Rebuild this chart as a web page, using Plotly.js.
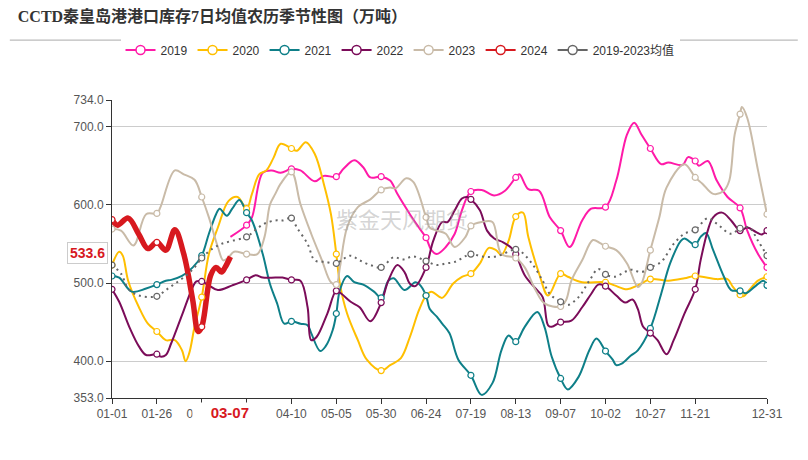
<!DOCTYPE html>
<html>
<head>
<meta charset="utf-8">
<script src="https://cdn.plot.ly/plotly-3.0.1.min.js"></script>
<style>
  body { margin: 0; background: #fff; }
  #chart { width: 808px; height: 460px; }
</style>
</head>
<body>
<div id="chart"></div>
<script>
// x axis: lunar-aligned calendar days of a leap year (01-01 .. 12-31)
const monthLens = [31, 29, 31, 30, 31, 30, 31, 31, 30, 31, 30, 31];
const dayLabels = [];
monthLens.forEach((n, m) => {
  for (let d = 1; d <= n; d++) {
    dayLabels.push(String(m + 1).padStart(2, '0') + '-' + String(d).padStart(2, '0'));
  }
});

// tick positions (day index) and labels shown under the axis
const tickDays = [0, 25, 50, 75, 100, 125, 150, 175, 200, 225, 250, 275, 300, 325, 365];
const tickLabels = ['01-01', '01-26', '02-20', '', '04-10', '05-05', '05-30', '06-24',
  '07-19', '08-13', '09-07', '10-02', '10-27', '11-21', '12-31'];
const yTicks = [353, 400, 500, 600, 700, 734];

// day index + value (万吨)
const d2019 = [66,75,78,84,89,94,100,105,113,118,125,129,135,140,144,150,155,159,166,171,175,178,181,186,191,195,200,206,213,219,225,227,232,238,244,250,255,262,267,275,281,287,291,295,300,306,310,318,321,325,327,332,337,343,350,354,360,365];
const v2019 = [559,574,584,641,644,641,646,644,630,637,636,646,657,648,635,636,631,614,588,571,558,542,537,546,563,593,617,619,612,618,635,639,620,618,584,567,546,580,595,597,631,690,705,690,672,652,654,651,661,656,650,656,631,610,596,567,537,520];

const d2020 = [0,4,6,9,15,20,25,30,35,39,41,43,46,50,54,59,65,70,75,78,82,86,90,94,100,103,108,113,118,122,125,127,131,137,142,150,155,161,166,171,175,178,184,190,195,200,205,210,214,217,221,225,229,232,238,243,250,254,262,275,280,287,293,300,310,319,325,337,343,346,350,352,355,360,365];
const v2020 = [523,540,535,503,469,448,438,427,427,414,400,410,444,482,537,571,605,610,595,614,639,644,660,678,672,669,680,665,627,588,537,499,461,427,402,388,395,404,431,465,484,489,481,499,508,512,525,545,542,536,554,585,590,559,512,484,512,508,501,501,497,492,497,505,503,506,509,505,505,495,485,483,491,503,508];

const d2021 = [0,4,11,19,25,30,33,39,45,50,54,58,60,64,67,71,75,78,84,88,92,96,100,105,109,111,116,119,123,125,127,131,135,140,146,150,154,157,163,169,171,175,177,181,184,188,193,200,206,212,217,221,225,230,237,241,245,250,254,260,266,270,275,279,281,284,289,293,300,306,311,317,319,325,328,331,335,341,345,350,353,358,363,365];
const v2021 = [509,507,489,493,498,503,504,509,520,535,563,588,595,586,595,606,590,580,537,499,474,448,451,448,446,436,413,419,440,461,491,509,501,498,489,481,503,506,491,501,499,484,467,457,448,436,402,382,357,372,414,433,425,444,463,444,406,378,364,380,414,429,413,402,395,397,407,414,442,486,525,554,557,549,559,564,542,508,491,490,487,495,503,497];

const d2022 = [0,4,10,15,19,25,27,30,33,39,45,47,50,54,59,67,75,80,84,91,95,100,105,109,111,114,120,125,128,133,138,144,150,154,159,163,166,169,175,179,184,187,191,195,198,200,205,209,213,218,223,225,230,236,240,243,245,250,256,262,267,271,275,281,286,290,293,296,300,304,309,313,319,325,328,332,335,340,345,350,354,359,362,365];
const v2022 = [492,476,442,419,408,409,406,408,423,459,495,502,502,497,491,497,504,510,507,507,507,504,503,469,427,431,461,490,486,476,469,451,475,503,523,514,499,496,520,554,578,578,593,608,610,607,593,567,557,552,544,537,510,493,482,446,444,450,452,469,486,498,496,484,475,479,467,444,436,427,409,427,461,492,529,567,584,590,580,567,571,565,562,567];

const d2023 = [0,5,12,19,25,27,35,40,46,50,54,59,62,65,68,75,81,85,88,91,94,100,105,111,117,122,125,127,131,137,144,150,155,158,164,168,175,177,181,186,191,197,200,206,212,217,225,230,236,241,250,253,256,262,268,272,275,281,287,293,295,300,305,309,319,325,329,335,341,344,347,350,351,354,360,365];
const v2023 = [569,567,548,588,589,597,644,639,632,610,584,546,529,533,540,537,537,559,600,614,627,642,601,563,529,501,498,520,571,597,607,619,622,621,634,629,584,571,567,563,546,559,573,578,578,537,532,520,491,474,470,478,503,529,555,551,547,542,525,495,499,542,584,622,652,635,627,614,618,631,690,716,725,711,644,588];

const d2024 = [0,3,9,15,20,25,30,35,40,45,48,50,55,58,61,63,66];
const v2024 = [581,574,583,562,544,552,542,568,537,478,438,444,510,520,514,520,533.6];

const dAvg = [0,5,9,15,25,30,35,41,46,50,56,61,67,75,80,85,91,95,100,103,109,113,119,125,129,133,138,144,150,157,162,168,175,181,186,191,200,206,214,225,228,234,240,244,250,254,260,266,271,275,280,289,295,300,306,313,319,325,332,337,345,350,355,360,365];
const vAvg = [523,512,493,484,483,491,499,509,520,532,544,550,554,559,568,576,580,580,583,571,550,529,527,525,531,535,529,523,520,533,530,534,528,523,525,527,537,534,534,543,540,525,503,486,476,472,482,503,518,511,508,517,514,520,527,550,563,568,583,576,563,570,571,554,535];

const latestDay = '03-07';
const latestValue = 533.6;

const series = [
  { name: '2019', days: d2019, vals: v2019, color: '#ff1aa8', width: 2 },
  { name: '2020', days: d2020, vals: v2020, color: '#ffbf00', width: 2 },
  { name: '2021', days: d2021, vals: v2021, color: '#0e7f88', width: 2 },
  { name: '2022', days: d2022, vals: v2022, color: '#7b0c59', width: 2 },
  { name: '2023', days: d2023, vals: v2023, color: '#c9bba8', width: 2 },
  { name: '2024', days: d2024, vals: v2024, color: '#d7191f', width: 5.5 },
  { name: '2019-2023均值', days: dAvg, vals: vAvg, color: '#666666', width: 2, dash: '2px,4px' },
];

const lineTraces = [];
const markerTraces = [];
const legendTraces = [];

series.forEach((s) => {
  lineTraces.push({
    x: s.days.map((d) => dayLabels[d]),
    y: s.vals,
    type: 'scatter',
    mode: 'lines',
    line: { color: s.color, width: s.width, shape: 'spline', smoothing: 1, dash: s.dash || 'solid' },
    legendgroup: s.name,
    showlegend: false,
    hoverinfo: 'skip',
  });

  // ECharts-style hollow symbols only at the label positions
  const keep = s.days.map((d, i) => (d % 25 === 0 || d === 365) ? i : -1).filter((i) => i >= 0);
  markerTraces.push({
    x: keep.map((i) => dayLabels[s.days[i]]),
    y: keep.map((i) => s.vals[i]),
    type: 'scatter',
    mode: 'markers',
    marker: { symbol: 'circle', size: 6, color: '#ffffff', line: { color: s.color, width: 1.2 } },
    legendgroup: s.name,
    showlegend: false,
    hoverinfo: 'skip',
  });

  legendTraces.push({
    x: [null],
    y: [null],
    type: 'scatter',
    mode: 'lines+markers',
    name: s.name,
    line: { color: s.color, width: 2 },
    marker: { symbol: 'circle', size: 9, color: '#ffffff', line: { color: s.color, width: 1.5 } },
    legendgroup: s.name,
  });
});

const layout = {
  width: 808,
  height: 460,
  margin: { l: 112, r: 41, t: 100, b: 62 },
  paper_bgcolor: '#ffffff',
  plot_bgcolor: '#ffffff',
  font: { family: '"Liberation Sans", "Noto Sans CJK SC", sans-serif', size: 12, color: '#555' },
  title: {
    text: '<b>CCTD秦皇岛港港口库存7日均值农历季节性图（万吨）</b>',
    xref: 'container',
    yref: 'container',
    x: 0.022,
    xanchor: 'left',
    y: 0.965,
    yanchor: 'middle',
    font: { family: '"Liberation Serif", "Noto Sans CJK SC", serif', size: 16, color: '#333' },
  },
  showlegend: true,
  legend: {
    orientation: 'h',
    x: 0.013,
    xanchor: 'left',
    y: 1.168,
    yanchor: 'middle',
    font: { size: 12, color: '#333' },
    itemclick: false,
    itemdoubleclick: false,
  },
  xaxis: {
    type: 'category',
    categoryorder: 'array',
    categoryarray: dayLabels,
    range: [0, 365],
    tickmode: 'array',
    tickvals: tickDays.map((d) => dayLabels[d]),
    ticktext: tickLabels,
    tickangle: 0,
    showgrid: false,
    zeroline: false,
    showline: true,
    linecolor: '#333',
    linewidth: 1,
    ticks: 'outside',
    ticklen: 5,
    tickcolor: '#333',
    tickfont: { size: 12, color: '#555' },
    fixedrange: true,
  },
  yaxis: {
    range: [353, 734],
    tickmode: 'array',
    tickvals: yTicks,
    ticktext: yTicks.map((v) => v.toFixed(1)),
    showgrid: true,
    gridcolor: '#cccccc',
    gridwidth: 1,
    zeroline: false,
    showline: true,
    linecolor: '#333',
    linewidth: 1,
    ticks: 'outside',
    ticklen: 5,
    tickcolor: '#333',
    tickfont: { size: 12, color: '#555' },
    fixedrange: true,
  },
  shapes: [
    // rule under the title
    { type: 'line', xref: 'paper', yref: 'paper', x0: -0.156, x1: 1.047, y0: 1.201, y1: 1.201,
      line: { color: '#aaaaaa', width: 1 } },
  ],
  annotations: [
    { text: '紫金天风期货', xref: 'paper', yref: 'paper', x: 0.443, y: 0.604, showarrow: false,
      font: { family: '"Noto Sans CJK SC", sans-serif', size: 22, color: 'rgba(160,160,160,0.45)' } },
    { text: '<b>' + latestValue.toFixed(1) + '</b>', xref: 'paper', yref: 'y', x: 0, y: latestValue,
      xanchor: 'right', yanchor: 'middle', xshift: -4, yshift: 4, showarrow: false,
      font: { size: 14, color: '#d7191f' }, bgcolor: '#ffffff', bordercolor: '#cccccc',
      borderwidth: 1, borderpad: 2 },
    // current-day label, drawn over the neighbouring tick labels as in the original
    { text: '<b>\u00a0\u00a0\u00a0\u00a0' + latestDay + '\u00a0\u00a0\u00a0</b>', xref: 'x', yref: 'paper',
      x: latestDay, y: -0.05, yanchor: 'middle', xshift: -2, showarrow: false,
      font: { size: 15, color: '#d7191f' }, bgcolor: '#ffffff', borderpad: 1 },
  ],
};

Plotly.newPlot('chart', [...lineTraces, ...markerTraces, ...legendTraces], layout,
  { displayModeBar: false, staticPlot: true });
</script>
</body>
</html>
